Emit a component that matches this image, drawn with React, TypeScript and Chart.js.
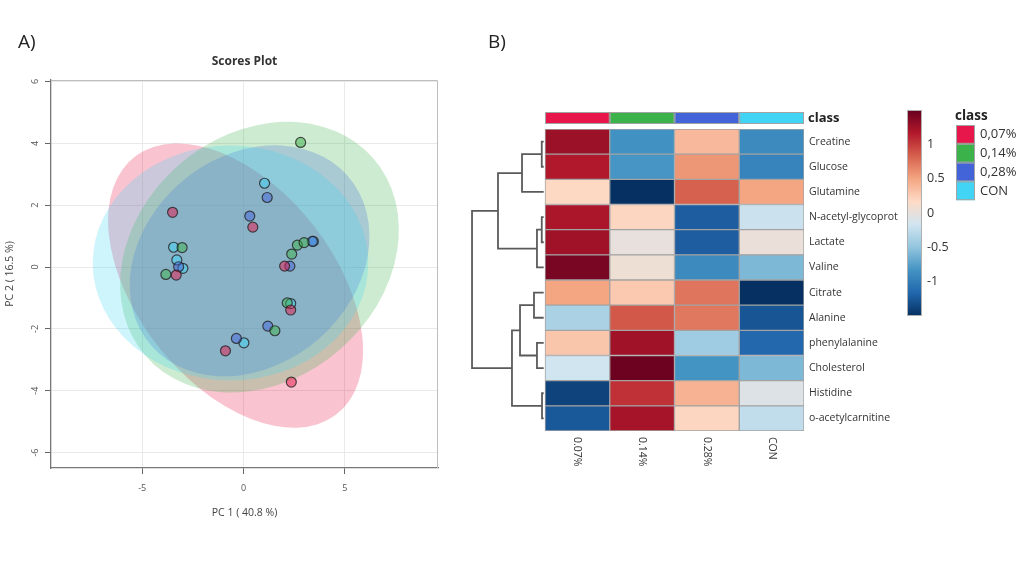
import React, { useEffect, useRef } from "react";
import { Chart, registerables } from "chart.js";

Chart.register(...registerables);

// ---------- shared ----------
const CLASSES = ["0.07%", "0.14%", "0.28%", "CON"];
const LEGEND_LABELS = ["0,07%", "0,14%", "0,28%", "CON"];
const CLASS_COLORS = ["#E8174B", "#3BB24A", "#4363D8", "#42D4F4"];

// ---------- panel A: PCA scores ----------
const PC1_007 = [-3.5, 0.46, -3.32, 2.03, 2.33, -0.89, 2.36];
const PC2_007 = [1.77, 1.29, -0.26, 0.03, -1.39, -2.71, -3.72];
const PC1_014 = [2.82, -3.03, 2.66, 2.99, 2.38, -3.83, 2.16, 1.55];
const PC2_014 = [4.03, 0.63, 0.71, 0.79, 0.42, -0.24, -1.16, -2.06];
const PC1_028 = [1.17, 0.31, 3.4, -3.2, 2.29, 1.2, -0.35];
const PC2_028 = [2.25, 1.65, 0.83, 0.01, 0.03, -1.91, -2.31];
const PC1_CON = [1.04, -3.45, 3.45, -3.29, -2.99, 2.33, 0.02];
const PC2_CON = [2.71, 0.64, 0.83, 0.23, -0.04, -1.18, -2.45];

// 95% confidence ellipses (data units): centre, semi-axes, rotation (deg)
const ELLIPSE_CX = [-0.39, 0.79, 0.3, -0.64];
const ELLIPSE_CY = [-0.6, 0.32, 0.2, 0.13];
const ELLIPSE_A = [6.82, 6.97, 6.0, 6.8];
const ELLIPSE_B = [3.77, 4.23, 3.6, 3.8];
const ELLIPSE_ANGLE = [-27.6, 11.7, 12, 0];

const X_TICKS = [-5, 0, 5];
const Y_TICKS = [-6, -4, -2, 0, 2, 4, 6];
const SCORES_TITLE = "Scores Plot";
const X_TITLE = "PC 1 ( 40.8 %)";
const Y_TITLE = "PC 2 ( 16.5 %)";

// ---------- panel B: heatmap ----------
const METABOLITES = [
  "Creatine",
  "Glucose",
  "Glutamine",
  "N-acetyl-glycoprot",
  "Lactate",
  "Valine",
  "Citrate",
  "Alanine",
  "phenylalanine",
  "Cholesterol",
  "Histidine",
  "o-acetylcarnitine",
];
const Z_007 = [1.27, 1.17, 0.18, 1.2, 1.25, 1.42, 0.5, -0.37, 0.3, -0.17, -1.38, -1.25];
const Z_014 = [-0.85, -0.82, -1.5, 0.2, 0.0, 0.05, 0.28, 0.87, 1.25, 1.48, 1.05, 1.22];
const Z_028 = [0.38, 0.57, 0.83, -1.22, -1.22, -0.9, 0.73, 0.72, -0.43, -0.83, 0.42, 0.2];
const Z_CON = [-0.9, -0.95, 0.5, -0.2, 0.02, -0.59, -1.5, -1.27, -1.15, -0.59, -0.08, -0.25];

// hierarchical clustering (R-style merge matrix: negative = leaf, positive = earlier merge)
const MERGE_A = [-1, -4, -11, 1, 2, -9, -7, 4, 7, 9, 8];
const MERGE_B = [-2, -5, -12, -3, -6, -10, -8, 5, 6, 3, 10];
const MERGE_H = [0.05, 0.05, 0.046, 0.355, 0.124, 0.124, 0.17, 0.726, 0.386, 0.51, 1.127];

const COLORBAR_TICKS = [1, 0.5, 0, -0.5, -1];
const Z_MIN = -1.5;
const Z_MAX = 1.5;
const RDBU = [
  "#053061",
  "#2166AC",
  "#4393C3",
  "#92C5DE",
  "#D1E5F0",
  "#FDDBC7",
  "#F4A582",
  "#D6604D",
  "#B2182B",
  "#67001F",
];

const FONT = "'Open Sans', 'DejaVu Sans', sans-serif";

function hexToRgb(hex: string) {
  const h = hex.replace("#", "");
  return [parseInt(h.slice(0, 2), 16), parseInt(h.slice(2, 4), 16), parseInt(h.slice(4, 6), 16)];
}
function rgba(hex: string, a: number) {
  const [r, g, b] = hexToRgb(hex);
  return `rgba(${r},${g},${b},${a})`;
}
function colorFor(v: number) {
  const t = Math.max(0, Math.min(1, (v - Z_MIN) / (Z_MAX - Z_MIN))) * (RDBU.length - 1);
  const i = Math.min(Math.floor(t), RDBU.length - 2);
  const f = t - i;
  const a = hexToRgb(RDBU[i]);
  const b = hexToRgb(RDBU[i + 1]);
  const c = a.map((x, k) => Math.round(x + (b[k] - x) * f));
  return `rgb(${c[0]},${c[1]},${c[2]})`;
}

function ScoresPlot() {
  const ref = useRef<HTMLCanvasElement>(null);
  useEffect(() => {
    const groups = [
      [PC1_007, PC2_007],
      [PC1_014, PC2_014],
      [PC1_028, PC2_028],
      [PC1_CON, PC2_CON],
    ];
    const ellipsePlugin = {
      id: "ellipses",
      beforeDatasetsDraw(chart: any) {
        const { ctx, chartArea, scales } = chart;
        const x = scales.x;
        const y = scales.y;
        const kx = x.getPixelForValue(1) - x.getPixelForValue(0);
        const ky = y.getPixelForValue(0) - y.getPixelForValue(1);
        ctx.save();
        ctx.beginPath();
        ctx.rect(chartArea.left, chartArea.top, chartArea.right - chartArea.left, chartArea.bottom - chartArea.top);
        ctx.clip();
        for (let i = 0; i < ELLIPSE_CX.length; i++) {
          ctx.save();
          ctx.translate(x.getPixelForValue(ELLIPSE_CX[i]), y.getPixelForValue(ELLIPSE_CY[i]));
          ctx.scale(kx, -ky);
          ctx.rotate((ELLIPSE_ANGLE[i] * Math.PI) / 180);
          ctx.beginPath();
          ctx.ellipse(0, 0, ELLIPSE_A[i], ELLIPSE_B[i], 0, 0, Math.PI * 2);
          ctx.restore();
          ctx.fillStyle = rgba(CLASS_COLORS[i], 0.26);
          ctx.fill();
        }
        ctx.restore();
      },
    };
    const textPlugin = {
      id: "scoresText",
      afterDraw(chart: any) {
        const { ctx, chartArea, scales } = chart;
        const x = scales.x;
        const y = scales.y;
        ctx.save();
        // box (top / right)
        ctx.strokeStyle = "#bdbdbd";
        ctx.lineWidth = 1;
        ctx.beginPath();
        ctx.moveTo(chartArea.left, chartArea.top + 0.5);
        ctx.lineTo(chartArea.right - 0.5, chartArea.top + 0.5);
        ctx.lineTo(chartArea.right - 0.5, chartArea.bottom);
        ctx.stroke();
        ctx.fillStyle = "#555";
        ctx.font = `9px ${FONT}`;
        ctx.textAlign = "center";
        ctx.textBaseline = "middle";
        X_TICKS.forEach((v) => {
          ctx.fillText(String(v), x.getPixelForValue(v), chartArea.bottom + 20);
        });
        Y_TICKS.forEach((v) => {
          ctx.save();
          ctx.translate(chartArea.left - 16, y.getPixelForValue(v));
          ctx.rotate(-Math.PI / 2);
          ctx.fillText(String(v), 0, 0);
          ctx.restore();
        });
        ctx.fillStyle = "#444";
        ctx.font = `10.5px ${FONT}`;
        ctx.fillText(X_TITLE, (chartArea.left + chartArea.right) / 2, chartArea.bottom + 45);
        ctx.save();
        ctx.translate(10, (chartArea.top + chartArea.bottom) / 2);
        ctx.rotate(-Math.PI / 2);
        ctx.fillText(Y_TITLE, 0, 0);
        ctx.restore();
        ctx.fillStyle = "#333";
        ctx.font = `bold 12px ${FONT}`;
        ctx.fillText(SCORES_TITLE, (chartArea.left + chartArea.right) / 2, chartArea.top - 18);
        ctx.restore();
      },
    };
    const chart = new Chart(ref.current!, {
      type: "scatter",
      data: {
        datasets: groups.map((g, i) => ({
          label: CLASSES[i],
          data: g[0].map((v, k) => ({ x: v, y: g[1][k] })),
          backgroundColor: rgba(CLASS_COLORS[i], 0.5),
          borderColor: "rgba(35,35,35,0.8)",
          borderWidth: 1.2,
          pointRadius: 5,
        })),
      },
      options: {
        responsive: false,
        animation: false,
        layout: { padding: { left: 0, right: 12, top: 80, bottom: 0 } },
        plugins: { legend: { display: false }, tooltip: { enabled: false } },
        scales: {
          x: {
            type: "linear",
            min: -9.5,
            max: 9.6,
            afterBuildTicks: (s: any) => {
              s.ticks = X_TICKS.map((v) => ({ value: v }));
            },
            afterFit: (s: any) => {
              s.height = 108;
            },
            ticks: { display: false },
            grid: { color: "#e9e9e9", tickColor: "#666", tickLength: 6, lineWidth: 1 },
            border: { color: "#777", width: 1.3 },
          },
          y: {
            type: "linear",
            min: -6.5,
            max: 6.05,
            afterBuildTicks: (s: any) => {
              s.ticks = Y_TICKS.map((v) => ({ value: v }));
            },
            afterFit: (s: any) => {
              s.width = 51;
            },
            ticks: { display: false },
            grid: { color: "#e9e9e9", tickColor: "#666", tickLength: 6, lineWidth: 1 },
            border: { color: "#777", width: 1.3 },
          },
        },
      },
      plugins: [ellipsePlugin, textPlugin],
    } as any);
    return () => chart.destroy();
  }, []);
  return <canvas ref={ref} width={450} height={576} style={{ position: "absolute", left: 0, top: 0 }} />;
}

function HeatmapPlot() {
  const ref = useRef<HTMLCanvasElement>(null);
  useEffect(() => {
    const zCols = [Z_007, Z_014, Z_028, Z_CON];
    const LEAF_X = -0.02;
    // dendrogram segments
    const nodeY: number[] = [];
    const nodeX: number[] = [];
    const dendro: any[] = [];
    const pos = (id: number) => (id < 0 ? { x: LEAF_X, y: -id - 1 } : { x: nodeX[id - 1], y: nodeY[id - 1] });
    for (let k = 0; k < MERGE_H.length; k++) {
      const a = pos(MERGE_A[k]);
      const b = pos(MERGE_B[k]);
      const xm = -MERGE_H[k];
      nodeX.push(xm);
      nodeY.push((a.y + b.y) / 2);
      dendro.push({
        type: "line",
        data: [
          { x: a.x, y: a.y },
          { x: xm, y: a.y },
          { x: xm, y: b.y },
          { x: b.x, y: b.y },
        ],
        borderColor: "#5a5a5a",
        borderWidth: 1.8,
        pointRadius: 0,
        fill: false,
        tension: 0,
        borderJoinStyle: "miter",
      });
    }
    const bars = zCols.map((z, c) => ({
      type: "bar",
      label: CLASSES[c],
      indexAxis: "y",
      grouped: false,
      data: z.map((_v, r) => ({ x: [c, c + 1], y: r })),
      backgroundColor: z.map((v) => colorFor(v)),
      borderColor: "#a3a3a3",
      borderWidth: 1,
      borderSkipped: false,
      barPercentage: 1,
      categoryPercentage: 1,
    }));
    const decoPlugin = {
      id: "heatDeco",
      afterDraw(chart: any) {
        const { ctx, chartArea, scales } = chart;
        const x = scales.x;
        ctx.save();
        // class annotation bar
        const barTop = chartArea.top - 17;
        const barH = 12;
        for (let c = 0; c < CLASSES.length; c++) {
          const x0 = x.getPixelForValue(c);
          const x1 = x.getPixelForValue(c + 1);
          ctx.fillStyle = CLASS_COLORS[c];
          ctx.fillRect(x0, barTop, x1 - x0, barH);
          ctx.strokeStyle = "#a3a3a3";
          ctx.lineWidth = 1;
          ctx.strokeRect(x0 + 0.5, barTop + 0.5, x1 - x0 - 1, barH - 1);
        }
        ctx.fillStyle = "#222";
        ctx.font = `bold 13px ${FONT}`;
        ctx.textAlign = "left";
        ctx.textBaseline = "middle";
        ctx.fillText("class", chartArea.right + 4, barTop + barH / 2);
        // column labels (rotated, reading downward)
        ctx.font = `10.5px ${FONT}`;
        ctx.fillStyle = "#333";
        for (let c = 0; c < CLASSES.length; c++) {
          ctx.save();
          ctx.translate(x.getPixelForValue(c + 0.5), chartArea.bottom + 6);
          ctx.rotate(Math.PI / 2);
          ctx.textAlign = "left";
          ctx.textBaseline = "middle";
          ctx.fillText(CLASSES[c], 0, 0);
          ctx.restore();
        }
        // colour bar
        const cbL = 457;
        const cbW = 15;
        const cbT = 110;
        const cbB = 316;
        const grad = ctx.createLinearGradient(0, cbT, 0, cbB);
        RDBU.forEach((col, i) => grad.addColorStop(1 - i / (RDBU.length - 1), col));
        ctx.fillStyle = grad;
        ctx.fillRect(cbL, cbT, cbW, cbB - cbT);
        ctx.strokeStyle = "#b0b0b0";
        ctx.strokeRect(cbL + 0.5, cbT + 0.5, cbW - 1, cbB - cbT - 1);
        ctx.fillStyle = "#333";
        ctx.font = `12.5px ${FONT}`;
        ctx.textAlign = "left";
        COLORBAR_TICKS.forEach((v) => {
          const yy = cbT + ((Z_MAX - v) / (Z_MAX - Z_MIN)) * (cbB - cbT);
          ctx.fillText(String(v), cbL + cbW + 5, yy);
        });
        // class legend
        ctx.font = `bold 13.5px ${FONT}`;
        ctx.fillStyle = "#222";
        ctx.fillText("class", 505, 116);
        const sw = 19;
        const sh = 18.8;
        for (let c = 0; c < LEGEND_LABELS.length; c++) {
          const yy = 125 + c * sh;
          ctx.fillStyle = CLASS_COLORS[c];
          ctx.fillRect(506, yy, sw, sh);
          ctx.strokeStyle = "#a3a3a3";
          ctx.strokeRect(506.5, yy + 0.5, sw - 1, sh - 1);
          ctx.fillStyle = "#333";
          ctx.font = `13px ${FONT}`;
          ctx.fillText(LEGEND_LABELS[c], 530, yy + sh / 2);
        }
        ctx.restore();
      },
    };
    const chart = new Chart(ref.current!, {
      type: "bar",
      data: { datasets: [...bars, ...dendro] },
      options: {
        responsive: false,
        animation: false,
        indexAxis: "y",
        layout: { padding: { left: 17.3, right: 0, top: 129, bottom: 145 } },
        plugins: { legend: { display: false }, tooltip: { enabled: false } },
        scales: {
          x: {
            type: "linear",
            axis: "x",
            position: "bottom",
            min: -1.2,
            max: 4,
            display: false,
            offset: false,
          },
          y: {
            type: "linear",
            axis: "y",
            position: "right",
            min: -0.5,
            max: 11.5,
            reverse: true,
            offset: false,
            afterBuildTicks: (s: any) => {
              s.ticks = METABOLITES.map((_m, i) => ({ value: i }));
            },
            afterFit: (s: any) => {
              s.width = 220;
            },
            ticks: {
              autoSkip: false,
              padding: 5,
              color: "#333",
              font: { size: 10.5, family: FONT },
              callback: (v: any) => METABOLITES[Math.round(Number(v))] ?? "",
            },
            grid: { display: false, drawTicks: false, offset: false },
            border: { display: false },
          },
        },
      },
      plugins: [decoPlugin],
    } as any);
    return () => chart.destroy();
  }, []);
  return <canvas ref={ref} width={574} height={576} style={{ position: "absolute", left: 450, top: 0 }} />;
}

export default function App() {
  const label = {
    position: "absolute" as const,
    fontFamily: FONT,
    fontSize: 19,
    color: "#222",
    lineHeight: "20px",
  };
  return (
    <div style={{ position: "absolute", left: 0, top: 0, width: 1024, height: 576, background: "#fff", overflow: "hidden" }}>
      <ScoresPlot />
      <HeatmapPlot />
      <div style={{ ...label, left: 18, top: 31 }}>A)</div>
      <div style={{ ...label, left: 488, top: 31 }}>B)</div>
    </div>
  );
}
